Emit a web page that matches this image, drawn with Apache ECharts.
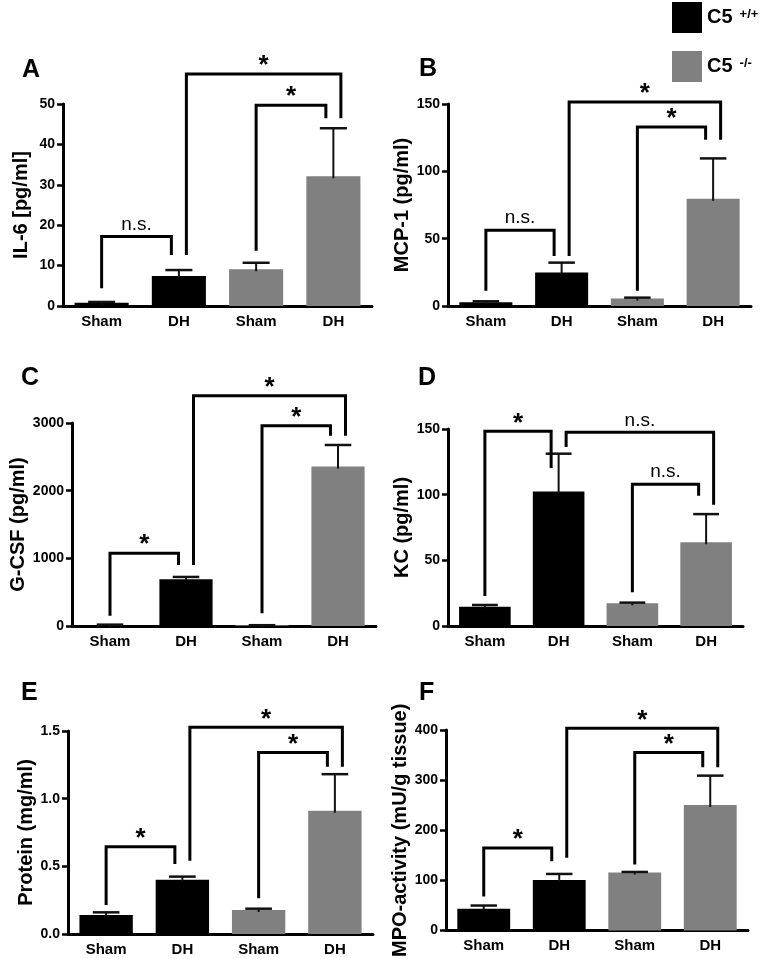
<!DOCTYPE html>
<html><head><meta charset="utf-8">
<script src="https://cdn.jsdelivr.net/npm/echarts@6/dist/echarts.min.js"></script>
<style>html,body{margin:0;padding:0;background:#fff}#c{width:764px;height:959px}</style>
</head><body><div id="c"></div>
<script>
// ---------- data ----------
const categories = ['Sham', 'DH', 'Sham', 'DH'];
const groupNames = ['C5 +/+', 'C5 -/-'];
const groupOfBar = [0, 0, 1, 1];
const panelLetters = ['A', 'B', 'C', 'D', 'E', 'F'];
const yTitles = ['IL-6 [pg/ml]', 'MCP-1 (pg/ml)', 'G-CSF (pg/ml)', 'KC (pg/ml)', 'Protein (mg/ml)', 'MPO-activity (mU/g tissue)'];
const yMax = [50, 150, 3000, 150, 1.5, 400];
const yStep = [10, 50, 1000, 50, 0.5, 100];
const yDecimals = [0, 0, 0, 0, 1, 0];

const il6Mean = [0.8, 7.4, 9.1, 32.1];
const il6Sem = [0.2, 1.5, 1.6, 11.9];
const mcp1Mean = [2.7, 24.8, 5.5, 79.6];
const mcp1Sem = [0.8, 7.4, 0.7, 30.0];
const gcsfMean = [15, 690, 10, 2358];
const gcsfSem = [5, 35, 2, 317];
const kcMean = [14.7, 102.5, 17.3, 63.8];
const kcSem = [1.3, 28.7, 0.5, 21.4];
const proteinMean = [0.14, 0.40, 0.177, 0.911];
const proteinSem = [0.02, 0.024, 0.01, 0.27];
const mpoMean = [43.4, 100.7, 115.8, 250.7];
const mpoSem = [6.6, 12.3, 1.2, 58.3];

// significance brackets: [fromBar, toBar, topValue, fromLegEnd, toLegEnd, label]
const il6Sig = [[0, 1, 17.2, 4.4, 12.6, 'n.s.'], [1, 3, 57.4, 12.6, 46.5, '*'], [2, 3, 49.7, 13.7, 46.5, '*']];
const mcp1Sig = [[0, 1, 56.3, 11.4, 37.2, 'n.s.'], [1, 3, 151.5, 37.2, 123.5, '*'], [2, 3, 132.9, 11.4, 123.5, '*']];
const gcsfSig = [[0, 1, 1075, 150, 900, '*'], [1, 3, 3404, 900, 2812, '*'], [2, 3, 2960, 187, 2812, '*']];
const kcSig = [[0, 1, 148.2, 22.9, 120.3, '*'], [1, 3, 147.5, 136.3, 92.3, 'n.s.'], [2, 3, 108, 25.7, 99.2, 'n.s.']];
const proteinSig = [[0, 1, 0.645, 0.214, 0.517, '*'], [1, 3, 1.527, 0.542, 1.236, '*'], [2, 3, 1.342, 0.264, 1.236, '*']];
const mpoSig = [[0, 1, 164.5, 67.8, 138.2, '*'], [1, 3, 403.3, 145.4, 325.7, '*'], [2, 3, 355.3, 131.6, 325.7, '*']];

const means = [il6Mean, mcp1Mean, gcsfMean, kcMean, proteinMean, mpoMean];
const sems = [il6Sem, mcp1Sem, gcsfSem, kcSem, proteinSem, mpoSem];
const sigs = [il6Sig, mcp1Sig, gcsfSig, kcSig, proteinSig, mpoSig];

// ---------- layout / style ----------
const grids = [
  {left: 63, top: 104, width: 309, height: 202},
  {left: 448, top: 104, width: 303, height: 202},
  {left: 72, top: 423, width: 304, height: 203},
  {left: 448, top: 429, width: 295, height: 197},
  {left: 68, top: 731, width: 305, height: 203},
  {left: 446, top: 730, width: 302, height: 203}
];
const letterPos = [[22, 58], [419, 57], [21, 366], [418, 366], [21, 681], [419, 681]];
const colors = ['#000000', '#808080'];
const FONT = '"Liberation Sans", Arial, Helvetica, sans-serif';
const BAR_FRAC = 0.7;

function legOffsets(br) {
  const ends = {};
  br.forEach((b, k) => {
    [[b[0], b[1], 0], [b[1], b[0], 1]].forEach(([c, o, s]) => {
      (ends[c] = ends[c] || []).push({k, s, o});
    });
  });
  const off = br.map(() => [0, 0]);
  Object.keys(ends).forEach(c => {
    const ci = +c, L = ends[c];
    L.sort((p, q) => ((p.o < ci ? 0 : 1) - (q.o < ci ? 0 : 1)) || (q.o - p.o));
    L.forEach((e, r) => { off[e.k][e.s] = (r - (L.length - 1) / 2) * 15; });
  });
  return off;
}

const option = {
  animation: false,
  backgroundColor: '#fff',
  textStyle: {fontFamily: FONT},
  legend: {
    left: 672, top: 2, padding: 0, orient: 'vertical', itemWidth: 30, itemHeight: 31, itemGap: 18,
    selectedMode: false, icon: 'rect', data: groupNames,
    formatter: n => '{a|C5}{b|' + n.split(' ')[1] + '}',
    textStyle: {
      rich: {
        a: {fontSize: 20, fontWeight: 'bold', color: '#000', fontFamily: FONT},
        b: {fontSize: 13, fontWeight: 'bold', color: '#000', fontFamily: FONT, verticalAlign: 'top', padding: [0, 0, 0, 7]}
      }
    }
  },
  title: panelLetters.map((t, i) => ({
    text: t, left: letterPos[i][0], top: letterPos[i][1], padding: 0,
    textStyle: {fontSize: 25, fontWeight: 'bold', color: '#000', fontFamily: FONT}
  })),
  grid: grids.map(g => Object.assign({containLabel: false}, g)),
  xAxis: grids.map((g, i) => ({
    type: 'category', gridIndex: i, data: categories,
    axisLine: {lineStyle: {color: '#000', width: 3}},
    axisTick: {alignWithLabel: true, length: 6, lineStyle: {color: '#000', width: 2.5}},
    axisLabel: {color: '#000', fontSize: 15, fontWeight: 'bold', margin: 8, fontFamily: FONT, interval: 0}
  })),
  yAxis: grids.map((g, i) => ({
    type: 'value', gridIndex: i, min: 0, max: yMax[i], interval: yStep[i],
    name: yTitles[i], nameLocation: 'middle', nameRotate: 90, nameGap: 32,
    nameTextStyle: {fontSize: 20, fontWeight: 'bold', color: '#000', fontFamily: FONT},
    splitLine: {show: false},
    axisLine: {show: true, lineStyle: {color: '#000', width: 3}},
    axisTick: {show: true, length: 6, lineStyle: {color: '#000', width: 2.5}},
    axisLabel: {color: '#000', fontSize: 14, fontWeight: 'bold', margin: 8, fontFamily: FONT,
      formatter: v => v.toFixed(yDecimals[i])}
  })),
  series: []
};

means.forEach((m, p) => {
  groupNames.forEach((gname, gi) => {
    option.series.push({
      type: 'bar', name: gname, xAxisIndex: p, yAxisIndex: p, stack: 'p' + p,
      barWidth: (BAR_FRAC * 100) + '%', itemStyle: {color: colors[gi]},
      data: m.map((v, i) => groupOfBar[i] === gi ? v : '-'), z: 2
    });
  });
  const sem = sems[p];
  option.series.push({
    type: 'custom', xAxisIndex: p, yAxisIndex: p, z: 3, clip: false, silent: true,
    data: m.map((v, i) => [i, v, v + sem[i]]),
    renderItem: (params, api) => {
      const i = api.value(0);
      const top = api.coord([i, api.value(2)]);
      const base = api.coord([i, api.value(1)]);
      const w = api.size([1, 0])[0] * BAR_FRAC * 0.5;
      return {type: 'group', children: [
        {type: 'line', shape: {x1: top[0], y1: top[1], x2: top[0], y2: base[1] + 2}, style: {stroke: '#111', lineWidth: 2}},
        {type: 'line', shape: {x1: top[0] - w / 2, y1: top[1], x2: top[0] + w / 2, y2: top[1]}, style: {stroke: '#111', lineWidth: 2.5}}
      ]};
    }
  });
  const br = sigs[p];
  const offs = legOffsets(br);
  option.series.push({
    type: 'custom', xAxisIndex: p, yAxisIndex: p, z: 4, clip: false, silent: true,
    data: br.map(b => [b[0], b[2]]),
    renderItem: (params, api) => {
      const b = br[params.dataIndex], o = offs[params.dataIndex];
      const p1 = api.coord([b[0], b[3]]), t = api.coord([b[0], b[2]]), p2 = api.coord([b[1], b[4]]);
      const x1 = p1[0] + o[0], x2 = p2[0] + o[1];
      const star = b[5] === '*';
      return {type: 'group', children: [
        {type: 'polyline', shape: {points: [[x1, p1[1]], [x1, t[1]], [x2, t[1]], [x2, p2[1]]]},
          style: {stroke: '#000', lineWidth: 3, fill: null, lineJoin: 'miter', lineCap: 'butt'}},
        {type: 'text', style: {
          text: b[5], x: (x1 + x2) / 2, y: t[1] - (star ? 8 : 12), align: 'center', verticalAlign: 'middle',
          fill: '#000', fontSize: star ? 26 : 19, fontWeight: star ? 'bold' : 'normal', fontFamily: FONT}}
      ]};
    }
  });
});

const chart = echarts.init(document.getElementById('c'), null, {renderer: 'canvas'});
chart.setOption(option);
</script></body></html>
